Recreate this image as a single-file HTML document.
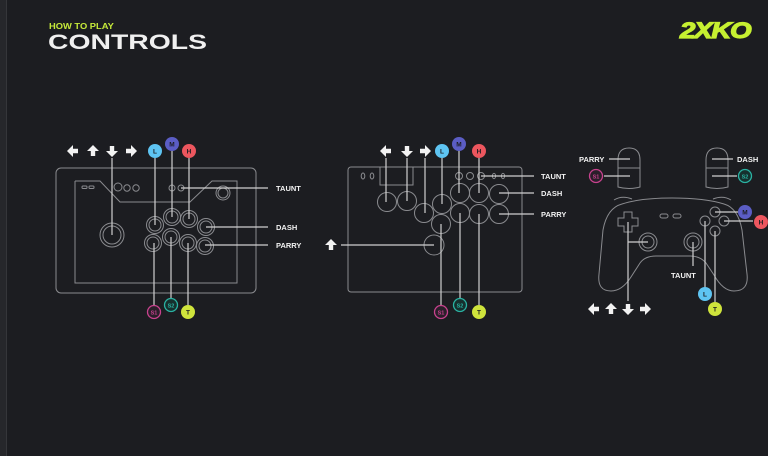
<!DOCTYPE html>
<html><head><meta charset="utf-8"><style>
html,body{margin:0;padding:0;background:#1c1d21;width:768px;height:456px;overflow:hidden}
svg{display:block}
text{font-family:"Liberation Sans",sans-serif;font-weight:bold}
</style></head><body>
<svg width="768" height="456" viewBox="0 0 768 456" xmlns="http://www.w3.org/2000/svg">
<defs>
<polygon id="ar" points="-5,-2.2 0,-2.2 0,-6 6,0 0,6 0,2.2 -5,2.2" fill="#f2f2f2"/>
</defs>
<rect width="768" height="456" fill="#1c1d21"/>
<rect x="0" y="0" width="7" height="456" fill="#26272b"/>
<line x1="6.5" y1="0" x2="6.5" y2="456" stroke="#35363a" stroke-width="1"/>
<text x="0" y="0" font-size="8.5" fill="#c6ea3a" transform="translate(49,29) scale(1.1,1)">HOW TO PLAY</text>
<text x="0" y="0" font-size="21" fill="#f0f0f0" transform="translate(48,49) scale(1.35,1)">CONTROLS</text>
<text x="0" y="0" font-size="23" fill="#c6f031" font-style="italic" stroke="#c6f031" stroke-width="1.2" letter-spacing="-1" transform="translate(680,38) scale(1.2,0.98)">2XKO</text>

<g fill="none" stroke="#8a8b8f" stroke-width="1">
<rect x="56" y="168" width="200" height="125" rx="5"/>
<polyline points="75,181 100,181 120,202 190,202 212,181 237,181 237,283 75,283 75,181"/>
<rect x="82" y="186" width="5" height="2.5" rx="1"/><rect x="89" y="186" width="5" height="2.5" rx="1"/>
<circle cx="118" cy="187" r="4"/><circle cx="127" cy="188" r="3.2"/><circle cx="136" cy="188" r="3.2"/>
<circle cx="172" cy="188" r="3"/><circle cx="181" cy="188" r="3"/>
<circle cx="223" cy="193" r="7"/><circle cx="223" cy="193" r="5"/>
<circle cx="112" cy="235" r="12"/><circle cx="112" cy="235" r="9"/>
<g>
<circle cx="155" cy="225" r="8.5"/><circle cx="155" cy="225" r="6"/>
<circle cx="172" cy="217" r="8.5"/><circle cx="172" cy="217" r="6"/>
<circle cx="189" cy="219" r="8.5"/><circle cx="189" cy="219" r="6"/>
<circle cx="206" cy="227" r="8.5"/><circle cx="206" cy="227" r="6"/>
<circle cx="153" cy="243" r="8.5"/><circle cx="153" cy="243" r="6"/>
<circle cx="171" cy="237" r="8.5"/><circle cx="171" cy="237" r="6"/>
<circle cx="188" cy="243" r="8.5"/><circle cx="188" cy="243" r="6"/>
<circle cx="205" cy="246" r="8.5"/><circle cx="205" cy="246" r="6"/>
</g>
<rect x="348" y="167" width="174" height="125" rx="3"/>
<polyline points="380,167 380,185 413,185 413,167"/>
<ellipse cx="363" cy="176" rx="1.8" ry="3"/><ellipse cx="372" cy="176" rx="1.8" ry="3"/>
<circle cx="459" cy="176" r="3.5"/><circle cx="470" cy="176" r="3.5"/><circle cx="481" cy="176" r="3.5"/>
<ellipse cx="494" cy="176" rx="1.6" ry="2.6"/><ellipse cx="503" cy="176" rx="1.6" ry="2.6"/>
<circle cx="387" cy="202" r="9.5"/><circle cx="407" cy="201" r="9.5"/><circle cx="424" cy="213" r="9.5"/>
<circle cx="442" cy="204" r="9.5"/><circle cx="460" cy="193" r="9.5"/><circle cx="479" cy="193" r="9.5"/>
<circle cx="499" cy="194" r="9.5"/><circle cx="441" cy="224" r="9.5"/><circle cx="460" cy="213" r="9.5"/>
<circle cx="479" cy="214" r="9.5"/><circle cx="499" cy="214" r="9.5"/><circle cx="434" cy="245" r="10"/>
<path d="M618,187 L618,160 Q618,148 629,148 Q640,148 640,160 L640,187 Q629,190 618,187 Z"/>
<line x1="618" y1="168" x2="640" y2="168"/>
<path d="M728,187 L728,160 Q728,148 717,148 Q706,148 706,160 L706,187 Q717,190 728,187 Z"/>
<line x1="706" y1="168" x2="728" y2="168"/>
<path d="M614,200 Q622,195 632,199 M713,199 Q723,195 731,200"/>
<path d="M622,204 Q640,198 672,198 Q705,198 724,204 Q738,208 742,230 L747,274 Q749,291 734,291 Q723,291 714,275 L706,263 Q700,256 690,256 L656,256 Q645,256 640,263 L631,277 Q622,291 611,291 Q597,291 599,274 L603,230 Q607,208 622,204 Z"/>
<path d="M624,212 L632,212 L632,218 L638,218 L638,226 L632,226 L632,232 L624,232 L624,226 L618,226 L618,218 L624,218 Z"/>
<rect x="660" y="214" width="8" height="4" rx="2"/><rect x="673" y="214" width="8" height="4" rx="2"/>
<circle cx="648" cy="242" r="9"/><circle cx="648" cy="242" r="6"/>
<circle cx="693" cy="242" r="9"/><circle cx="693" cy="242" r="6"/>
<circle cx="715" cy="212" r="5"/><circle cx="705" cy="221" r="5"/><circle cx="724" cy="221" r="5"/><circle cx="715" cy="231" r="5"/>
</g>

<g stroke="#d0d0d0" stroke-width="1.2" fill="none">
<line x1="112" y1="158" x2="112" y2="235"/>
<line x1="155" y1="158" x2="155" y2="225"/>
<line x1="172" y1="151" x2="172" y2="217"/>
<line x1="189" y1="158" x2="189" y2="219"/>
<line x1="181" y1="188" x2="268" y2="188"/>
<line x1="206" y1="227" x2="268" y2="227"/>
<line x1="205" y1="245" x2="268" y2="245"/>
<line x1="154" y1="243" x2="154" y2="306"/>
<line x1="171" y1="237" x2="171" y2="299"/>
<line x1="188" y1="243" x2="188" y2="305"/>
<line x1="386" y1="158" x2="386" y2="202"/>
<line x1="407" y1="158" x2="407" y2="201"/>
<line x1="425" y1="158" x2="425" y2="213"/>
<line x1="442" y1="158" x2="442" y2="204"/>
<line x1="459" y1="151" x2="459" y2="193"/>
<line x1="479" y1="158" x2="479" y2="193"/>
<line x1="481" y1="176" x2="534" y2="176"/>
<line x1="499" y1="193" x2="534" y2="193"/>
<line x1="499" y1="214" x2="534" y2="214"/>
<line x1="341" y1="245" x2="434" y2="245"/>
<line x1="441" y1="224" x2="441" y2="305"/>
<line x1="460" y1="213" x2="460" y2="298"/>
<line x1="479" y1="214" x2="479" y2="305"/>
<line x1="609" y1="159" x2="630" y2="159"/>
<line x1="604" y1="176" x2="630" y2="176"/>
<line x1="712" y1="159" x2="733" y2="159"/>
<line x1="712" y1="176" x2="737" y2="176"/>
<line x1="715" y1="212" x2="738" y2="212"/>
<line x1="724" y1="221" x2="753" y2="221"/>
<line x1="693" y1="242" x2="693" y2="266"/>
<line x1="705" y1="221" x2="705" y2="288"/>
<line x1="715" y1="231" x2="715" y2="302"/>
<line x1="628" y1="222" x2="628" y2="301"/>
<line x1="628" y1="242" x2="648" y2="242"/>
</g>

<use href="#ar" transform="translate(73,151) rotate(180)"/>
<use href="#ar" transform="translate(93,151) rotate(-90)"/>
<use href="#ar" transform="translate(112,151) rotate(90)"/>
<use href="#ar" transform="translate(131,151)"/>
<use href="#ar" transform="translate(386,151) rotate(180)"/>
<use href="#ar" transform="translate(407,151) rotate(90)"/>
<use href="#ar" transform="translate(425,151)"/>
<use href="#ar" transform="translate(331,245) rotate(-90)"/>
<use href="#ar" transform="translate(594,309) rotate(180)"/>
<use href="#ar" transform="translate(611,309) rotate(-90)"/>
<use href="#ar" transform="translate(628,309) rotate(90)"/>
<use href="#ar" transform="translate(645,309)"/>

<g font-size="7.5" fill="#f2f2f2">
<text x="276" y="191">TAUNT</text>
<text x="276" y="230">DASH</text>
<text x="276" y="248">PARRY</text>
<text x="541" y="179">TAUNT</text>
<text x="541" y="196">DASH</text>
<text x="541" y="217">PARRY</text>
<text x="579" y="162">PARRY</text>
<text x="737" y="162">DASH</text>
<text x="671" y="278">TAUNT</text>
</g>

<g font-size="6.5" text-anchor="middle">
<g><circle cx="155" cy="151" r="7" fill="#5ec4f2"/><text x="155" y="153.5" fill="#1c1d21">L</text></g>
<g><circle cx="172" cy="144" r="7" fill="#5b5dc4"/><text x="172" y="146.5" fill="#1c1d21">M</text></g>
<g><circle cx="189" cy="151" r="7" fill="#ec565e"/><text x="189" y="153.5" fill="#1c1d21">H</text></g>
<g><circle cx="154" cy="312" r="6.5" fill="#2a1f2a" stroke="#c8428e" stroke-width="1.3"/><text x="154" y="314.5" fill="#c8428e" font-size="5.5">S1</text></g>
<g><circle cx="171" cy="305" r="6.5" fill="#16302e" stroke="#2ab3a3" stroke-width="1.3"/><text x="171" y="307.5" fill="#2ab3a3" font-size="5.5">S2</text></g>
<g><circle cx="188" cy="312" r="7" fill="#cfe43c"/><text x="188" y="314.5" fill="#1c1d21">T</text></g>
<g><circle cx="442" cy="151" r="7" fill="#5ec4f2"/><text x="442" y="153.5" fill="#1c1d21">L</text></g>
<g><circle cx="459" cy="144" r="7" fill="#5b5dc4"/><text x="459" y="146.5" fill="#1c1d21">M</text></g>
<g><circle cx="479" cy="151" r="7" fill="#ec565e"/><text x="479" y="153.5" fill="#1c1d21">H</text></g>
<g><circle cx="441" cy="312" r="6.5" fill="#2a1f2a" stroke="#c8428e" stroke-width="1.3"/><text x="441" y="314.5" fill="#c8428e" font-size="5.5">S1</text></g>
<g><circle cx="460" cy="305" r="6.5" fill="#16302e" stroke="#2ab3a3" stroke-width="1.3"/><text x="460" y="307.5" fill="#2ab3a3" font-size="5.5">S2</text></g>
<g><circle cx="479" cy="312" r="7" fill="#cfe43c"/><text x="479" y="314.5" fill="#1c1d21">T</text></g>
<g><circle cx="596" cy="176" r="6.5" fill="#2a1f2a" stroke="#c8428e" stroke-width="1.3"/><text x="596" y="178.5" fill="#c8428e" font-size="5.5">S1</text></g>
<g><circle cx="745" cy="176" r="6.5" fill="#16302e" stroke="#2ab3a3" stroke-width="1.3"/><text x="745" y="178.5" fill="#2ab3a3" font-size="5.5">S2</text></g>
<g><circle cx="745" cy="212" r="7" fill="#5b5dc4"/><text x="745" y="214.5" fill="#1c1d21">M</text></g>
<g><circle cx="761" cy="222" r="7" fill="#ec565e"/><text x="761" y="224.5" fill="#1c1d21">H</text></g>
<g><circle cx="705" cy="294" r="7" fill="#5ec4f2"/><text x="705" y="296.5" fill="#1c1d21">L</text></g>
<g><circle cx="715" cy="309" r="7" fill="#cfe43c"/><text x="715" y="311.5" fill="#1c1d21">T</text></g>
</g>
</svg>
</body></html>
